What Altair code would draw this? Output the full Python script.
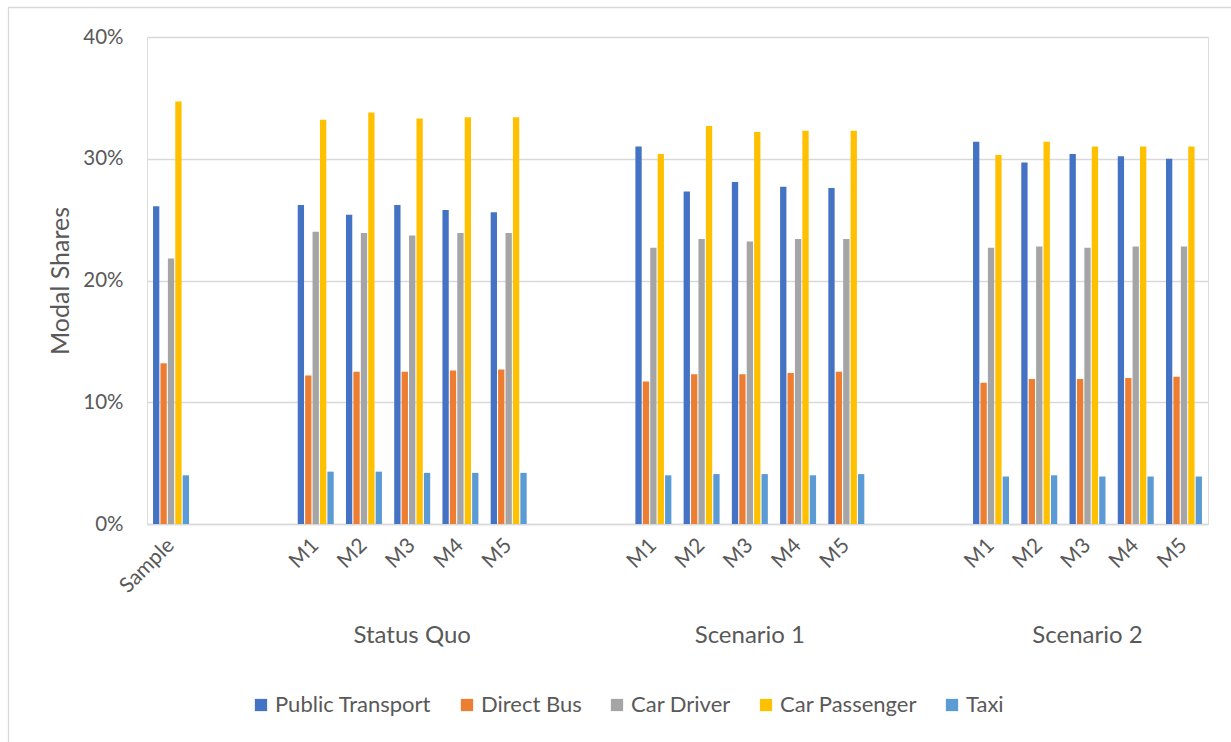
import altair as alt
import pandas as pd

# x-axis categories (gap entries are empty slots between groups)
categories = ["Sample", "gap1", "gap2",
              "SQ M1", "SQ M2", "SQ M3", "SQ M4", "SQ M5", "gap3", "gap4",
              "S1 M1", "S1 M2", "S1 M3", "S1 M4", "S1 M5", "gap5", "gap6",
              "S2 M1", "S2 M2", "S2 M3", "S2 M4", "S2 M5"]
data_categories = ["Sample",
                   "SQ M1", "SQ M2", "SQ M3", "SQ M4", "SQ M5",
                   "S1 M1", "S1 M2", "S1 M3", "S1 M4", "S1 M5",
                   "S2 M1", "S2 M2", "S2 M3", "S2 M4", "S2 M5"]
modes = ["Public Transport", "Direct Bus", "Car Driver", "Car Passenger", "Taxi"]
colors = ["#4472C4", "#ED7D31", "#A5A5A5", "#FFC000", "#5B9BD5"]

public_transport = [26.1, 26.2, 25.4, 26.2, 25.8, 25.6, 31.0, 27.3, 28.1, 27.7, 27.6, 31.4, 29.7, 30.4, 30.2, 30.0]
direct_bus = [13.2, 12.2, 12.5, 12.5, 12.6, 12.7, 11.7, 12.3, 12.3, 12.4, 12.5, 11.6, 11.9, 11.9, 12.0, 12.1]
car_driver = [21.8, 24.0, 23.9, 23.7, 23.9, 23.9, 22.7, 23.4, 23.2, 23.4, 23.4, 22.7, 22.8, 22.7, 22.8, 22.8]
car_passenger = [34.7, 33.2, 33.8, 33.3, 33.4, 33.4, 30.4, 32.7, 32.2, 32.3, 32.3, 30.3, 31.4, 31.0, 31.0, 31.0]
taxi = [4.0, 4.3, 4.3, 4.2, 4.2, 4.2, 4.0, 4.1, 4.1, 4.0, 4.1, 3.9, 4.0, 3.9, 3.9, 3.9]

group_labels = ["Status Quo", "Scenario 1", "Scenario 2"]
group_anchor = ["SQ M3", "S1 M3", "S2 M3"]

series = [public_transport, direct_bus, car_driver, car_passenger, taxi]
rows = []
for m, vals in zip(modes, series):
    for c, v in zip(data_categories, vals):
        rows.append({"category": c, "mode": m, "value": v})
df = pd.DataFrame(rows)

W, H = 1061, 487
FONT = "Lato"
GREY = "#595959"

x_enc = alt.X("category:N", sort=categories,
              scale=alt.Scale(domain=categories, paddingInner=0.254, paddingOuter=0.125),
              axis=alt.Axis(title=None, labelAngle=-45, labelAlign="right", labelBaseline="middle",
                            labelPadding=18, ticks=False, grid=False, domainColor="#d9d9d9",
                            domainWidth=1.3, labelFontSize=21, labelColor=GREY, labelFont=FONT,
                            labelExpr="datum.value == 'Sample' ? 'Sample' : (indexof(datum.value, 'gap') == 0 ? '' : slice(datum.value, -2))"))

bars = alt.Chart(df).mark_bar().encode(
    x=x_enc,
    xOffset=alt.XOffset("mode:N", sort=modes, scale=alt.Scale(paddingInner=0.15)),
    y=alt.Y("value:Q", scale=alt.Scale(domain=[0, 40], nice=False),
            axis=alt.Axis(title="Modal Shares", values=[0, 10, 20, 30, 40],
                          labelExpr="datum.value + '%'", ticks=False, domain=False,
                          gridColor="#d9d9d9", gridWidth=1.3, labelPadding=24,
                          labelFontSize=20.5, labelColor=GREY, labelFont=FONT,
                          titleFontSize=25, titleFont=FONT, titleColor=GREY,
                          titleFontWeight="normal", titlePadding=9)),
    color=alt.Color("mode:N", sort=modes, scale=alt.Scale(domain=modes, range=colors),
                    legend=alt.Legend(title=None, orient="none", direction="horizontal",
                                      legendX=103, legendY=657, symbolType="square",
                                      symbolSize=150, symbolStrokeWidth=0, labelFontSize=22,
                                      labelColor=GREY, labelFont=FONT, labelOffset=3,
                                      columnPadding=24, padding=0)),
)

gdf = pd.DataFrame({"category": group_anchor, "label": group_labels})
groups = alt.Chart(gdf).mark_text(fontSize=24, font=FONT, color=GREY, baseline="middle").encode(
    x=alt.X("category:N", sort=categories),
    y=alt.value(H + 112),
    text="label:N",
)

border = alt.Chart(pd.DataFrame({"a": [0]})).mark_rect(fill=None, stroke="#d9d9d9", strokeWidth=1.3).encode(
    x=alt.value(-138.5), x2=alt.value(W + 60), y=alt.value(-29.5), y2=alt.value(H + 260)
)

chart = alt.layer(border, bars, groups).properties(
    width=W, height=H,
    autosize=alt.AutoSizeParams(type="none"),
    padding={"left": 147, "top": 37, "right": 23, "bottom": 218},
).configure_view(stroke=None).configure(background="white")

chart.save("out.html", embed_options={"renderer": "svg", "actions": False})
